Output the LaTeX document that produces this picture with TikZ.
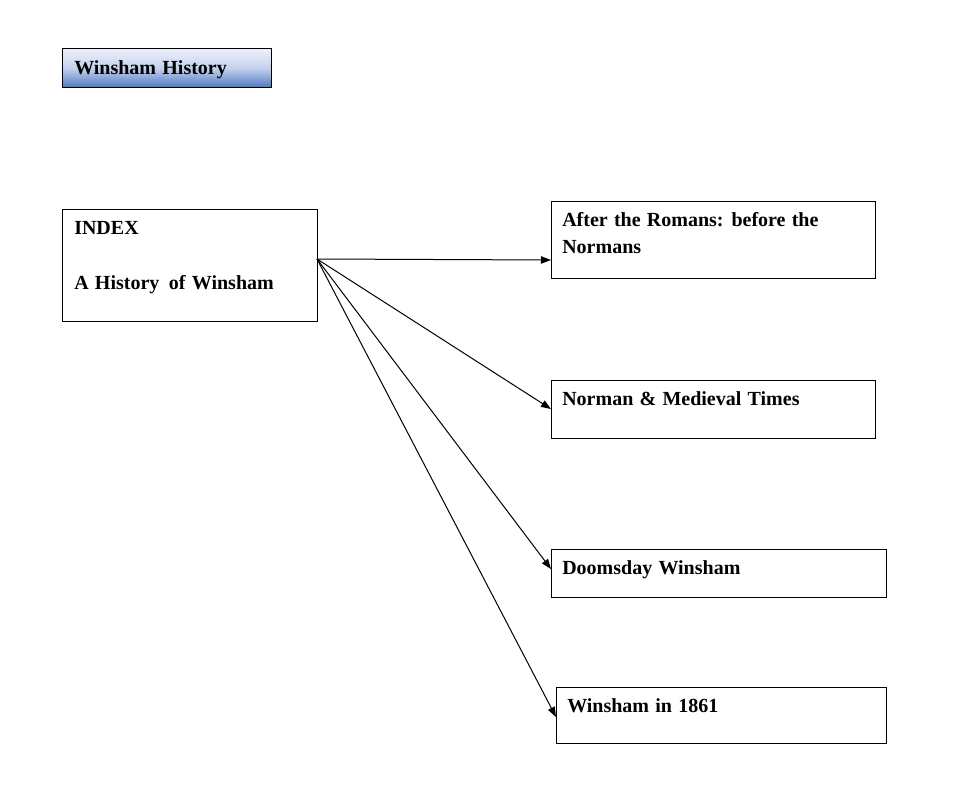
\documentclass[tikz,border=0pt]{standalone}
\usepackage{fontspec}
\setmainfont[WordSpace={1.25}]{Liberation Serif}
\usetikzlibrary{arrows.meta}
\definecolor{titletop}{RGB}{236,240,252}
\definecolor{titlebot}{RGB}{78,120,192}
\tikzset{
  boxnode/.style={draw=black, line width=0.75pt, inner sep=0pt, anchor=north west},
  txt/.style={anchor=base west, inner sep=0pt, font=\fontsize{15pt}{20pt}\selectfont\bfseries},
  conn/.style={draw=black, line width=0.75pt, -{Triangle[length=7.5pt,width=5.5pt]}}
}
\begin{document}
\begin{tikzpicture}[x=0.75pt,y=-0.75pt]
\useasboundingbox (0,0) rectangle (972,796);
% title
\node[boxnode, top color=titletop, bottom color=titlebot, middle color=titletop!75!titlebot, minimum width=209*0.75pt, minimum height=39*0.75pt] (title) at (62,48) {};
\node[txt] (titlet) at (74,74) {Winsham History};
% index box
\node[boxnode, minimum width=255*0.75pt, minimum height=112*0.75pt] (index) at (62,209) {};
\node[txt] (indext) at (74,234) {INDEX};
\node[txt] (histt) at (74,289) {A History\, of Winsham};
% right boxes
\node[boxnode, minimum width=324*0.75pt, minimum height=77*0.75pt] (b1) at (551,201) {};
\node[txt] (b1t) at (562,226) {After the Romans: before the};
\node[txt] (b1t2) at (562,253) {Normans};
\node[boxnode, minimum width=324*0.75pt, minimum height=58*0.75pt] (b2) at (551,380) {};
\node[txt] (b2t) at (562,405) {Norman \& Medieval Times};
\node[boxnode, minimum width=335*0.75pt, minimum height=48*0.75pt] (b3) at (551,549) {};
\node[txt] (b3t) at (562,574) {Doomsday Winsham};
\node[boxnode, minimum width=330*0.75pt, minimum height=56*0.75pt] (b4) at (556,687) {};
\node[txt] (b4t) at (567,712) {Winsham in 1861};
% connectors
\coordinate (src) at (317,259);
\coordinate (e1) at (551,260);
\coordinate (e2) at (551,409);
\coordinate (e3) at (551,569);
\coordinate (e4) at (556,717);
\draw[conn] (src) -- (e1);
\draw[conn] (src) -- (e2);
\draw[conn] (src) -- (e3);
\draw[conn] (src) -- (e4);
\end{tikzpicture}
\end{document}
